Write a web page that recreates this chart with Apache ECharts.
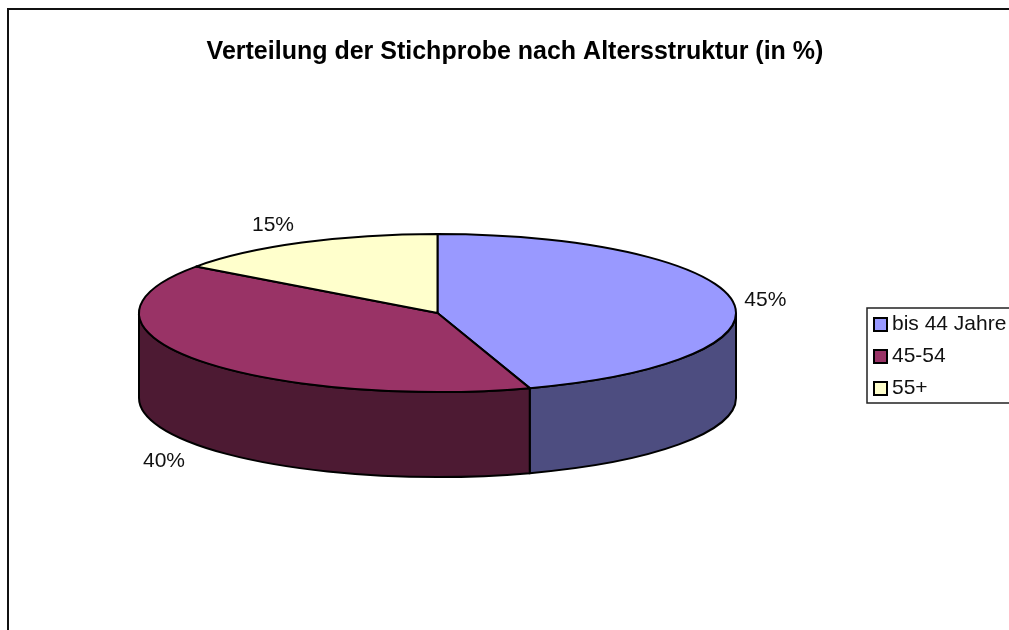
<!DOCTYPE html>
<html>
<head>
<meta charset="utf-8">
<title>Altersstruktur</title>
<style>
html, body { margin: 0; padding: 0; background: #fff; overflow: hidden; }
#chart { width: 1009px; height: 630px; }
</style>
<script src="https://cdn.jsdelivr.net/npm/echarts@6/dist/echarts.min.js"></script>
</head>
<body>
<div id="chart"></div>
<script>
var categories = ['bis 44 Jahre', '45-54', '55+'];
var shares = [45, 40, 15];

var topColors = ['#9999FF', '#993366', '#FFFFCC'];
var sideColors = ['#4D4D80', '#4D1A33', '#808066'];
// label offset from the rim point at the middle of each slice
var labelOffsets = [[33, 0], [-32, 17], [-29, -17]];

var pie = { cx: 437.5, cy: 313, rx: 298.5, ry: 79, depth: 85 };
var fontName = '"Liberation Sans", Arial, sans-serif';

var total = shares.reduce(function (a, b) { return a + b; }, 0);

// angle in radians, clockwise from 12 o'clock
function rimPoint(angle, drop) {
    return [
        pie.cx + pie.rx * Math.sin(angle),
        pie.cy - pie.ry * Math.cos(angle) + (drop || 0)
    ];
}

function topPath(a0, a1) {
    var p0 = rimPoint(a0), p1 = rimPoint(a1);
    var large = a1 - a0 > Math.PI ? 1 : 0;
    return 'M' + pie.cx + ' ' + pie.cy + 'L' + p0[0] + ' ' + p0[1] +
        'A' + pie.rx + ' ' + pie.ry + ' 0 ' + large + ' 1 ' + p1[0] + ' ' + p1[1] + 'Z';
}

function sidePath(a0, a1) {
    var p0 = rimPoint(a0), p1 = rimPoint(a1);
    var q0 = rimPoint(a0, pie.depth), q1 = rimPoint(a1, pie.depth);
    return 'M' + p0[0] + ' ' + p0[1] +
        'A' + pie.rx + ' ' + pie.ry + ' 0 0 1 ' + p1[0] + ' ' + p1[1] +
        'L' + q1[0] + ' ' + q1[1] +
        'A' + pie.rx + ' ' + pie.ry + ' 0 0 0 ' + q0[0] + ' ' + q0[1] + 'Z';
}

function makeRenderItem(i) {
    return function (params, api) {
        var value = api.value(0);
        var before = api.value(1);
        var a0 = before / total * Math.PI * 2;
        var a1 = (before + value) / total * Math.PI * 2;
        var mid = (a0 + a1) / 2;
        var children = [];

        // only the front half of the rim (3 to 9 o'clock) can be seen
        var s0 = Math.max(a0, Math.PI / 2);
        var s1 = Math.min(a1, Math.PI * 1.5);
        if (s1 > s0) {
            children.push({
                type: 'path',
                shape: { pathData: sidePath(s0, s1) },
                style: { fill: sideColors[i], stroke: '#000', lineWidth: 2 }
            });
        }
        children.push({
            type: 'path',
            shape: { pathData: topPath(a0, a1) },
            style: { fill: topColors[i], stroke: '#000', lineWidth: 2, lineJoin: 'round' }
        });

        var front = Math.cos(mid) < -0.3;
        var anchor = rimPoint(mid, front ? pie.depth : 0);
        children.push({
            type: 'text',
            x: anchor[0] + labelOffsets[i][0],
            y: anchor[1] + labelOffsets[i][1],
            style: {
                text: value + '%',
                fill: '#111',
                font: '21px ' + fontName,
                align: 'center',
                verticalAlign: 'middle'
            }
        });
        return { type: 'group', children: children };
    };
}

var running = 0;
var series = categories.map(function (name, i) {
    var item = {
        name: name,
        type: 'custom',
        coordinateSystem: 'none',
        silent: true,
        animation: false,
        itemStyle: { color: topColors[i] },
        renderItem: makeRenderItem(i),
        data: [[shares[i], running]]
    };
    running += shares[i];
    return item;
});

var chart = echarts.init(document.getElementById('chart'));
chart.setOption({
    animation: false,
    backgroundColor: '#fff',
    title: {
        text: 'Verteilung der Stichprobe nach Altersstruktur (in %)',
        left: 515,
        top: 40,
        textAlign: 'center',
        padding: 0,
        textStyle: { color: '#000', fontFamily: fontName, fontSize: 25, fontWeight: 'bold' }
    },
    legend: {
        orient: 'vertical',
        left: 867,
        top: 308,
        padding: [6, 20, 4, 6],
        itemGap: 11,
        itemWidth: 13,
        itemHeight: 13,
        icon: 'rect',
        borderColor: '#222',
        borderWidth: 1.5,
        backgroundColor: '#fff',
        selectedMode: false,
        itemStyle: { borderColor: '#000', borderWidth: 2 },
        textStyle: { color: '#111', fontFamily: fontName, fontSize: 21 },
        data: categories
    },
    graphic: [{
        // frame runs off the right and bottom of the page
        type: 'rect',
        silent: true,
        shape: { x: 8, y: 9, width: 1200, height: 800 },
        style: { fill: 'none', stroke: '#111', lineWidth: 2 }
    }],
    series: series
});
</script>
</body>
</html>
